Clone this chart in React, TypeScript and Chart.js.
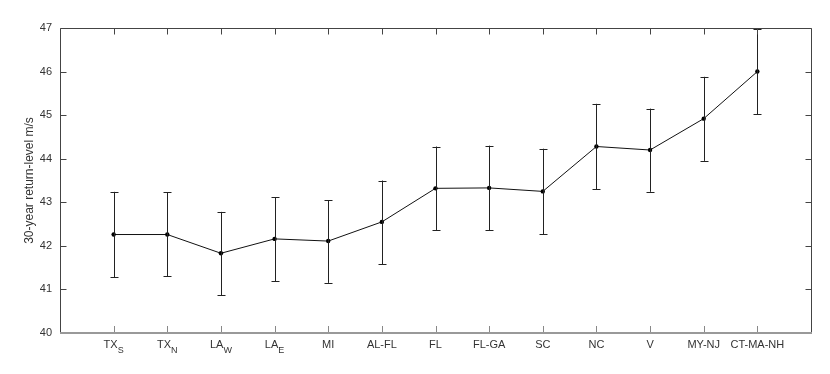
import React, { useEffect, useRef } from "react";
import { Chart, registerables } from "chart.js";

Chart.register(...registerables);

const categories = ["TX|S", "TX|N", "LA|W", "LA|E", "MI", "AL-FL", "FL", "FL-GA", "SC", "NC", "V", "MY-NJ", "CT-MA-NH"];
const values = [42.26, 42.26, 41.83, 42.16, 42.11, 42.55, 43.32, 43.33, 43.25, 44.28, 44.2, 44.92, 46.0];
const lower = [41.28, 41.3, 40.87, 41.19, 41.15, 41.58, 42.36, 42.36, 42.27, 43.3, 43.24, 43.95, 45.02];
const upper = [43.24, 43.23, 42.78, 43.11, 43.05, 43.5, 44.28, 44.3, 44.23, 45.26, 45.15, 45.88, 46.98];
const yTicks = [40, 41, 42, 43, 44, 45, 46, 47];
const yTitle = "30-year return-level m/s";

const FONT = "'Liberation Sans', Arial, Helvetica, sans-serif";

const customPlugin = {
  id: "custom",
  afterDatasetsDraw(chart: any) {
    const ctx = chart.ctx;
    const x = chart.scales.x;
    const y = chart.scales.y;
    const ca = chart.chartArea;
    ctx.save();
    // error bars
    ctx.strokeStyle = "#222";
    ctx.lineWidth = 1;
    for (let i = 0; i < values.length; i++) {
      const px = Math.round(x.getPixelForValue(i + 1)) + 0.5;
      const pl = y.getPixelForValue(lower[i]);
      const pu = y.getPixelForValue(upper[i]);
      ctx.beginPath();
      ctx.moveTo(px, pl);
      ctx.lineTo(px, pu);
      ctx.moveTo(px - 4, Math.round(pl) + 0.5);
      ctx.lineTo(px + 4, Math.round(pl) + 0.5);
      ctx.moveTo(px - 4, Math.round(pu) + 0.5);
      ctx.lineTo(px + 4, Math.round(pu) + 0.5);
      ctx.stroke();
    }
    // frame
    const L = Math.round(ca.left) + 0.5;
    const R = Math.round(ca.right) + 0.5;
    const T = Math.round(ca.top) + 0.5;
    const B = Math.round(ca.bottom);
    ctx.strokeStyle = "#444";
    ctx.beginPath();
    ctx.moveTo(L, B);
    ctx.lineTo(L, T);
    ctx.lineTo(R, T);
    ctx.lineTo(R, B);
    ctx.stroke();
    // y ticks inward
    for (const v of yTicks) {
      const py = Math.round(y.getPixelForValue(v)) + 0.5;
      ctx.beginPath();
      ctx.moveTo(L, py);
      ctx.lineTo(L + 6, py);
      ctx.moveTo(R, py);
      ctx.lineTo(R - 6, py);
      ctx.stroke();
    }
    // x ticks
    for (let i = 0; i < categories.length; i++) {
      const px = Math.round(x.getPixelForValue(i + 1)) + 0.5;
      ctx.strokeStyle = "#444";
      ctx.beginPath();
      ctx.moveTo(px, T);
      ctx.lineTo(px, T + 6);
      ctx.stroke();
      ctx.strokeStyle = "#888";
      ctx.beginPath();
      ctx.moveTo(px, B);
      ctx.lineTo(px, B - 7);
      ctx.stroke();
    }
    // bottom axis
    ctx.strokeStyle = "#999";
    ctx.lineWidth = 2;
    ctx.beginPath();
    ctx.moveTo(ca.left, B);
    ctx.lineTo(ca.right + 1, B);
    ctx.stroke();
    // x labels
    ctx.fillStyle = "#333";
    ctx.textBaseline = "middle";
    for (let i = 0; i < categories.length; i++) {
      const px = x.getPixelForValue(i + 1);
      const [main, sub] = categories[i].split("|");
      ctx.font = `11px ${FONT}`;
      const wm = ctx.measureText(main).width;
      let ws = 0;
      if (sub) {
        ctx.font = `9px ${FONT}`;
        ws = ctx.measureText(sub).width;
      }
      const total = wm + ws;
      const sx = px - total / 2;
      ctx.font = `11px ${FONT}`;
      ctx.textAlign = "left";
      ctx.fillText(main, sx, 345);
      if (sub) {
        ctx.font = `9px ${FONT}`;
        ctx.fillText(sub, sx + wm, 351);
      }
    }
    ctx.restore();
  },
};

export default function App() {
  const ref = useRef<HTMLCanvasElement>(null);
  useEffect(() => {
    if (!ref.current) return;
    const chart = new Chart(ref.current, {
      type: "line",
      data: {
        datasets: [
          {
            data: values.map((v, i) => ({ x: i + 1, y: v })),
            borderColor: "#111",
            backgroundColor: "#000",
            borderWidth: 1,
            pointRadius: 2.2,
            pointBorderWidth: 0,
            pointBackgroundColor: "#000",
            tension: 0,
          },
        ],
      },
      options: {
        responsive: false,
        animation: false,
        layout: { padding: { left: 0, top: 28, right: 19, bottom: 41 } },
        plugins: { legend: { display: false }, tooltip: { enabled: false } },
        scales: {
          x: { type: "linear", min: 0, max: 14, display: false },
          y: {
            min: 40,
            max: 47,
            grid: { display: false, drawTicks: false },
            border: { display: false },
            ticks: {
              stepSize: 1,
              color: "#333",
              font: { size: 11, family: FONT },
              padding: 8,
            },
            title: {
              display: true,
              text: yTitle,
              color: "#333",
              font: { size: 12, family: FONT },
              padding: { top: 22, bottom: 0 },
            },
            afterFit: (s: any) => {
              s.width = 60;
            },
          },
        },
      },
      plugins: [customPlugin],
    });
    return () => chart.destroy();
  }, []);
  return (
    <div style={{ position: "fixed", left: 0, top: 0, width: 830, height: 374, background: "#fff" }}>
      <canvas ref={ref} width={830} height={374} />
    </div>
  );
}
